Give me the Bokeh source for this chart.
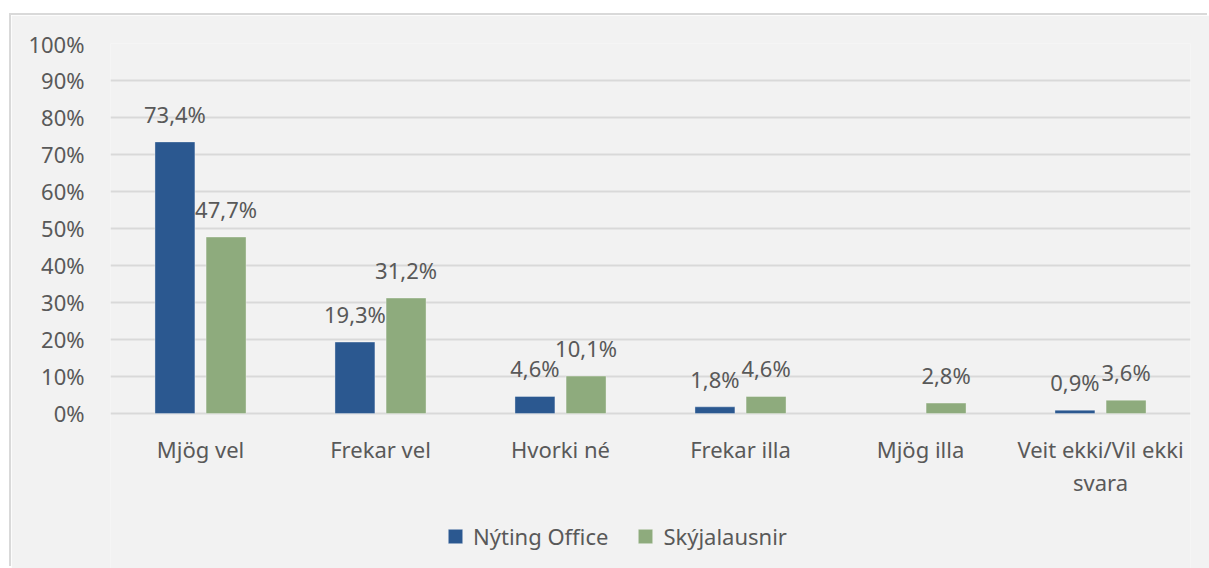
from bokeh.plotting import figure
from bokeh.models import (FactorRange, Range1d, ColumnDataSource, Legend, LegendItem,
                          PrintfTickFormatter, FixedTicker, LabelSet)
from bokeh.transform import dodge
from bokeh.core.properties import value
from bokeh.embed import file_html
from bokeh.resources import INLINE

categories = ["Mjög vel", "Frekar vel", "Hvorki né", "Frekar illa", "Mjög illa", "Veit ekki/Vil ekki svara"]
cat_line1 = ["Mjög vel", "Frekar vel", "Hvorki né", "Frekar illa", "Mjög illa", "Veit ekki/Vil ekki"]
cat_line2 = ["", "", "", "", "", "svara"]
series_names = ["Nýting Office", "Skýjalausnir"]
office = [73.4, 19.3, 4.6, 1.8, None, 0.9]
cloud = [47.7, 31.2, 10.1, 4.6, 2.8, 3.6]
y_ticks = [0, 10, 20, 30, 40, 50, 60, 70, 80, 90, 100]

BLUE = "#2B5890"
GREEN = "#8EAB7D"
TXT = "#595959"
GRID = "#D9D9D9"
BG = "#F2F2F2"
FONT = "Noto Sans"
FS = "22px"

def fmt(v):
    return ("%.1f%%" % v).replace(".", ",")

src_o = ColumnDataSource(dict(cat=[c for c, v in zip(categories, office) if v is not None],
                              val=[v for v in office if v is not None],
                              lab=[fmt(v) for v in office if v is not None]))
src_c = ColumnDataSource(dict(cat=categories, val=cloud, lab=[fmt(v) for v in cloud]))
src_cat = ColumnDataSource(dict(cat=categories, l1=cat_line1, l2=cat_line2, zero=[0] * len(categories)))

# frame: 100% at page y=43, 0% at page y=413 (3.7 px per unit), frame reaches page bottom
p = figure(x_range=FactorRange(*categories, range_padding=0), y_range=Range1d(-41.9, 100),
           width=1198, height=553, output_backend="svg", toolbar_location=None,
           min_border_left=99, min_border_right=19, min_border_top=28, min_border_bottom=0)
p.styles = {"margin-left": "11px", "margin-top": "15px",
            "box-shadow": "-2px -2px 0 0 #D9D9D9"}

p.background_fill_color = BG
p.border_fill_color = BG
p.outline_line_color = None

OFF = 0.142
W = 0.222
r1 = p.vbar(x=dodge("cat", -OFF, range=p.x_range), top="val", width=W, source=src_o,
            fill_color=BLUE, line_color="#FFFFFF", line_alpha=0.35, line_width=1)
r2 = p.vbar(x=dodge("cat", OFF, range=p.x_range), top="val", width=W, source=src_c,
            fill_color=GREEN, line_color="#FFFFFF", line_alpha=0.35, line_width=1)

for src, off in ((src_o, -OFF), (src_c, OFF)):
    p.add_layout(LabelSet(x=dodge("cat", off, range=p.x_range), y="val", text="lab", source=src,
                          text_align="center", text_baseline="bottom", y_offset=13,
                          text_font=value(FONT), text_font_size=FS, text_color=TXT))

# category labels below the 0% line
p.text(x="cat", y="zero", text="l1", source=src_cat, y_offset=36, text_align="center",
       text_baseline="middle", text_font=value(FONT), text_font_size=FS, text_color=TXT)
p.text(x="cat", y="zero", text="l2", source=src_cat, y_offset=69, text_align="center",
       text_baseline="middle", text_font=value(FONT), text_font_size=FS, text_color=TXT)

p.yaxis.ticker = FixedTicker(ticks=y_ticks)
p.yaxis.formatter = PrintfTickFormatter(format="%d%%")
p.yaxis.axis_line_color = None
p.yaxis.major_tick_line_color = None
p.yaxis.minor_tick_line_color = None
p.yaxis.major_label_standoff = 20
p.yaxis.major_label_text_font = FONT
p.yaxis.major_label_text_font_size = FS
p.yaxis.major_label_text_color = TXT

p.xaxis.visible = False

p.xgrid.grid_line_color = None
p.ygrid.grid_line_color = GRID
p.ygrid.grid_line_width = 2

legend = Legend(items=[LegendItem(label=series_names[0], renderers=[r1]),
                       LegendItem(label=series_names[1], renderers=[r2])],
                orientation="horizontal", location=(336, 17),
                glyph_width=18, glyph_height=18, label_standoff=9, spacing=28,
                label_text_font=FONT, label_text_font_size=FS, label_text_color=TXT,
                background_fill_alpha=0, border_line_color=None, padding=4, margin=0)
p.add_layout(legend, "center")

open("out.html", "w").write(file_html(p, INLINE))
